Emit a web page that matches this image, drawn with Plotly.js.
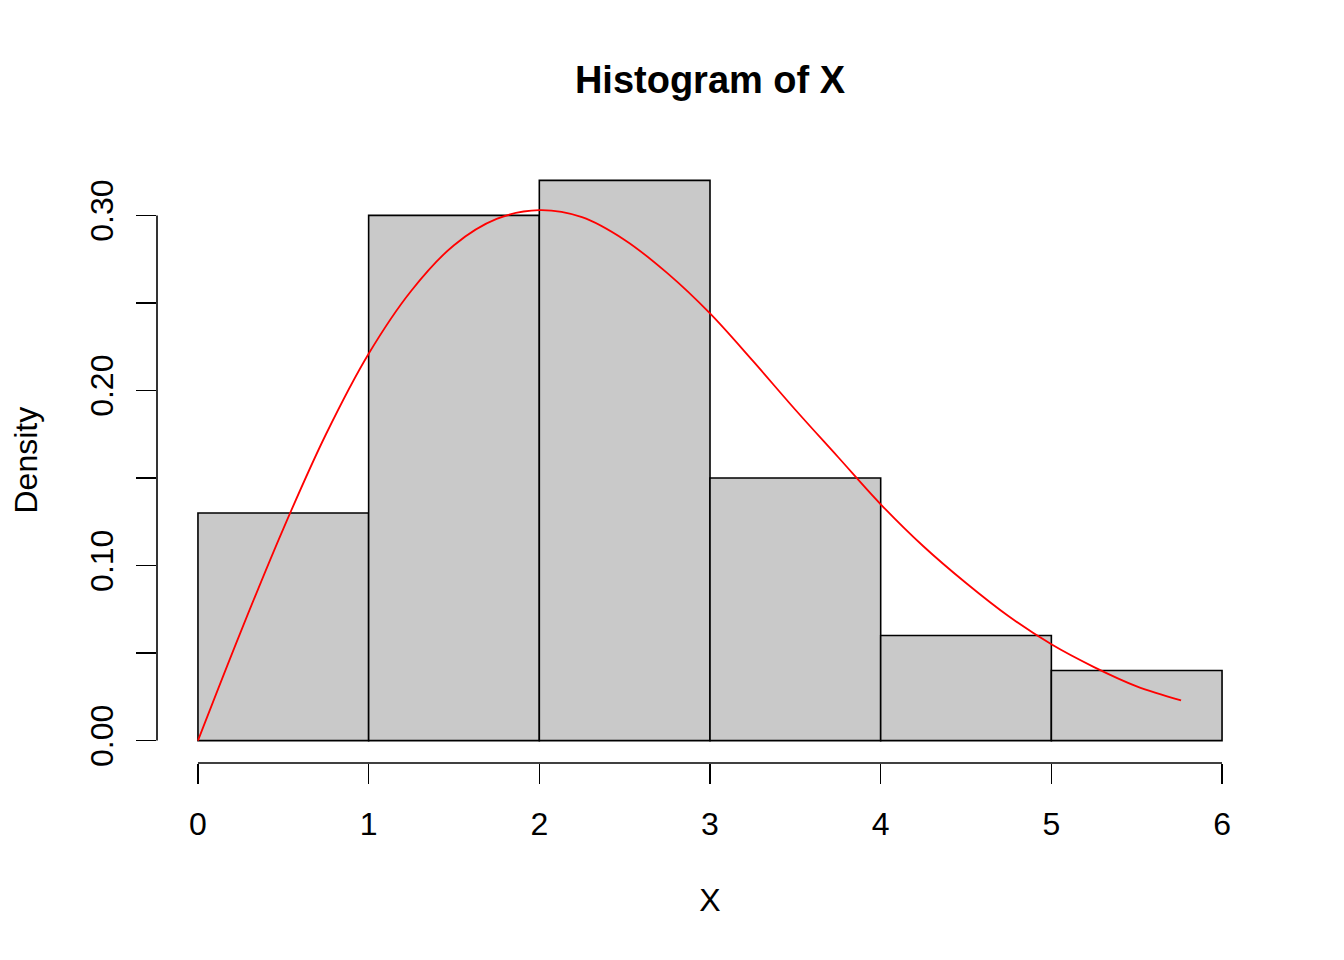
<!DOCTYPE html>
<html>
<head>
<meta charset="utf-8">
<script src="https://cdn.plot.ly/plotly-3.0.1.min.js"></script>
<style>html,body{margin:0;padding:0;background:#fff;}#chart{width:1344px;height:960px;}</style>
</head>
<body>
<div id="chart"></div>
<script>
// Histogram bins (breaks) and densities
const breaks = [0, 1, 2, 3, 4, 5, 6];
const density = [0.13, 0.30, 0.32, 0.15, 0.06, 0.04];

// Red density curve
const curveX = [0, 0.25, 0.5, 0.75, 1.0, 1.25, 1.5, 1.75, 2.0, 2.25, 2.5, 2.75, 3.0, 3.25, 3.5, 3.75, 4.0, 4.25, 4.5, 4.75, 5.0, 5.25, 5.5, 5.76];
const curveY = [0, 0.062, 0.121, 0.175, 0.221, 0.257, 0.283, 0.298, 0.303, 0.299, 0.286, 0.267, 0.244, 0.217, 0.189, 0.162, 0.135, 0.111, 0.090, 0.071, 0.055, 0.042, 0.031, 0.023];

// Axis ticks
const xTicks = [0, 1, 2, 3, 4, 5, 6];
const yTicks = [0, 0.05, 0.10, 0.15, 0.20, 0.25, 0.30];
const yTickText = ['0.00', '', '0.10', '', '0.20', '', '0.30'];

const mids = density.map((d, i) => (breaks[i] + breaks[i + 1]) / 2);
const widths = density.map((d, i) => breaks[i + 1] - breaks[i]);

const traces = [
  {
    type: 'bar',
    x: mids,
    y: density,
    width: widths,
    marker: {color: '#C9C9C9', line: {color: '#000000', width: 1.6}},
    hoverinfo: 'x+y',
    showlegend: false
  },
  {
    type: 'scatter',
    mode: 'lines',
    x: curveX,
    y: curveY,
    line: {color: '#FF0000', width: 1.8, shape: 'spline'},
    showlegend: false
  }
];

const font = {family: '"Liberation Sans", Arial, Helvetica, sans-serif', color: '#000000'};

const layout = {
  width: 1344,
  height: 960,
  paper_bgcolor: '#ffffff',
  plot_bgcolor: '#ffffff',
  margin: {l: 157, r: 81, t: 158, b: 197, pad: 0},
  font: Object.assign({size: 32}, font),
  title: {
    text: '<b>Histogram of X</b>',
    font: Object.assign({size: 38}, font),
    x: 0.5, xref: 'paper', xanchor: 'center',
    y: 1 - 80 / 960, yref: 'container', yanchor: 'middle'
  },
  bargap: 0,
  xaxis: {
    range: [-0.24, 6.24],
    tickvals: xTicks,
    ticktext: xTicks.map(String),
    ticks: 'outside',
    ticklen: 20,
    tickwidth: 1.6,
    tickcolor: '#000',
    ticklabelstandoff: 13,
    showline: false,
    showgrid: false,
    zeroline: false,
    tickfont: Object.assign({size: 32}, font),
    title: {text: 'X', font: Object.assign({size: 32}, font), standoff: 47},
    automargin: false,
    fixedrange: true
  },
  yaxis: {
    range: [-0.0128, 0.3328],
    tickvals: yTicks,
    ticktext: yTickText,
    tickangle: -90,
    ticks: 'outside',
    ticklen: 20,
    tickwidth: 1.6,
    tickcolor: '#000',
    ticklabelstandoff: 10,
    showline: false,
    showgrid: false,
    zeroline: false,
    tickfont: Object.assign({size: 32}, font),
    title: {text: ''},
    automargin: false,
    fixedrange: true
  },
  annotations: [
    {
      text: 'Density', xref: 'paper', yref: 'paper',
      x: (25 - 157) / 1106, y: 0.5, xanchor: 'center', yanchor: 'middle',
      textangle: -90, showarrow: false,
      font: Object.assign({size: 32}, font)
    }
  ],
  shapes: [
    {type: 'line', xref: 'x', yref: 'paper', x0: breaks[0], x1: breaks[breaks.length - 1], y0: 0, y1: 0, line: {color: '#000', width: 1.6}},
    {type: 'line', xref: 'paper', yref: 'y', x0: 0, x1: 0, y0: yTicks[0], y1: yTicks[yTicks.length - 1], line: {color: '#000', width: 1.6}}
  ]
};

Plotly.newPlot('chart', traces, layout, {displayModeBar: false, staticPlot: true});
</script>
</body>
</html>
